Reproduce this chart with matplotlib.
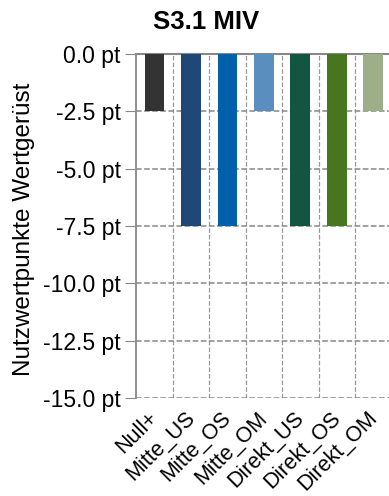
import matplotlib
matplotlib.use("Agg")
import matplotlib.pyplot as plt
import matplotlib.transforms as mtransforms
from matplotlib.ticker import FuncFormatter, MultipleLocator

plt.rcParams['font.family'] = ['Liberation Sans', 'DejaVu Sans']

kategorien = ["Null+", "Mitte_US", "Mitte_OS", "Mitte_OM", "Direkt_US", "Direkt_OS", "Direkt_OM"]
werte = [-2.5, -7.5, -7.5, -2.5, -7.5, -7.5, -2.5]
farben = ["#333333", "#1F4778", "#0061AA", "#5A8EBE", "#125641", "#46771E", "#9CAF88"]

fig = plt.figure(figsize=(3.89, 4.96), dpi=100)
ax = fig.add_axes([0.35, 0.198, 0.65, 0.693])

x = list(range(len(kategorien)))
ax.bar(x, werte, width=0.54, color=farben, zorder=3)

ax.set_ylim(-15, 0)
ax.set_xlim(-0.5, 6.43)
ax.yaxis.set_major_locator(MultipleLocator(2.5))
ax.yaxis.set_major_formatter(FuncFormatter(lambda v, p: "%.1f pt" % v if abs(v) > 1e-9 else "0.0 pt"))
ax.set_xticks(x)
ax.set_xticklabels(kategorien, rotation=45, ha="right", rotation_mode="anchor", fontsize=15.5)
ax.set_xticks([i + 0.5 for i in x[:-1]], minor=True)
ax.tick_params(axis="x", which="both", length=0, pad=7)
ax.tick_params(axis="y", length=8, color="#888888", labelsize=16.5, pad=3)

# Beschriftungen etwas nach links schieben
versatz = mtransforms.ScaledTranslation(-7 / 100, 0, fig.dpi_scale_trans)
for lab in ax.get_xticklabels():
    lab.set_transform(lab.get_transform() + versatz)

ax.grid(axis="y", which="major", linestyle="--", color="#888888", linewidth=1.1, zorder=0)
ax.grid(axis="x", which="minor", linestyle="--", color="#999999", linewidth=0.9, zorder=0)

for s in ["right", "bottom"]:
    ax.spines[s].set_visible(False)
ax.spines["left"].set_color("#888888")
ax.spines["left"].set_linewidth(1.3)
ax.spines["top"].set_color("#888888")
ax.spines["top"].set_linewidth(1.5)

ax.set_ylabel("Nutzwertpunkte Wertgerüst", fontsize=17.5)
ax.yaxis.set_label_coords(-0.40, 0.49)
fig.text(0.53, 0.955, "S3.1 MIV", ha="center", va="center", fontsize=18.5, fontweight="bold")

fig.savefig("out.png", dpi=100)
